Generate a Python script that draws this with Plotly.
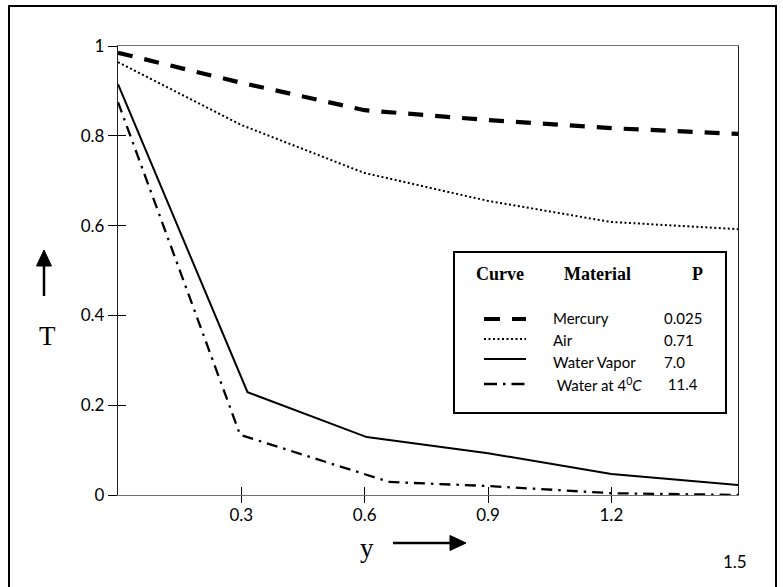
import plotly.graph_objects as go

# ---------------- data ----------------
x_mercury = [0, 0.3, 0.6, 0.9, 1.2, 1.51]
T_mercury = [0.985, 0.918, 0.857, 0.835, 0.817, 0.804]

x_air = [0, 0.3, 0.6, 0.9, 1.2, 1.51]
T_air = [0.964, 0.824, 0.717, 0.655, 0.608, 0.592]

x_vapor = [0, 0.315, 0.605, 0.9, 1.2, 1.51]
T_vapor = [0.915, 0.229, 0.129, 0.093, 0.047, 0.022]

x_water4 = [0, 0.297, 0.66, 0.9, 1.2, 1.51]
T_water4 = [0.875, 0.134, 0.029, 0.02, 0.004, 0.0]

legend_headers = ["Curve", "Material", "P"]
legend_materials = ["Mercury", "Air", "Water Vapor", " Water at 4<sup>0</sup><i>C</i>"]
legend_P = ["0.025", "0.71", "7.0", " 11.4"]

x_tickvals = [0.3, 0.6, 0.9, 1.2]
x_ticktext = ["0.3", "0.6", "0.9", "1.2"]
x_inner_ticks = [0, 0.3, 0.6, 0.9, 1.2]
y_tickvals = [0, 0.2, 0.4, 0.6, 0.8, 1]
y_ticktext = ["0", "0.2", "0.4", "0.6", "0.8", "1"]
stray_label = "1.5"

# ---------------- layout helpers (pixel -> paper) ----------------
W, H = 783, 587
L, R, TOP, BOT = 118, 738, 46, 495
XMAX = 1.508


def px(x):
    return (x - L) / (R - L)


def py(y):
    return (BOT - y) / (BOT - TOP)


TICKFONT = dict(family="Lato, Calibri, sans-serif", size=17, color="black")
SERIF = "Liberation Serif, Times New Roman, serif"

fig = go.Figure()
fig.add_trace(go.Scatter(x=x_mercury, y=T_mercury, mode="lines",
                         line=dict(color="black", width=4.2, dash="15px,12px"),
                         showlegend=False))
fig.add_trace(go.Scatter(x=x_air, y=T_air, mode="lines",
                         line=dict(color="black", width=2, dash="2px,2.5px"),
                         showlegend=False))
fig.add_trace(go.Scatter(x=x_vapor, y=T_vapor, mode="lines",
                         line=dict(color="black", width=2),
                         showlegend=False))
fig.add_trace(go.Scatter(x=x_water4, y=T_water4, mode="lines",
                         line=dict(color="black", width=2.3, dash="11px,6px,2.5px,6px"),
                         showlegend=False))
# invisible trace so that the inside-tick overlay axes render
fig.add_trace(go.Scatter(x=[None], y=[None], xaxis="x2", yaxis="y2",
                         mode="lines", showlegend=False, hoverinfo="skip"))

shapes = []
annotations = []

# outer frame
shapes.append(dict(type="rect", xref="paper", yref="paper",
                   x0=px(9), x1=px(776), y0=py(6), y1=py(600),
                   line=dict(color="black", width=2)))

# legend box
shapes.append(dict(type="rect", xref="paper", yref="paper",
                   x0=px(454), x1=px(726), y0=py(252), y1=py(413),
                   line=dict(color="black", width=2)))

# legend headers
for txt, cx in zip(legend_headers, [500, 597, 697]):
    annotations.append(dict(text="<b>%s</b>" % txt, xref="paper", yref="paper",
                            x=px(cx), y=py(274), showarrow=False,
                            xanchor="center", yanchor="middle",
                            font=dict(family=SERIF, size=18, color="black")))

row_y = [318, 340, 362, 384]
for txt, ry in zip(legend_materials, row_y):
    annotations.append(dict(text=txt, xref="paper", yref="paper",
                            x=px(551), y=py(ry), showarrow=False,
                            xanchor="left", yanchor="middle",
                            font=dict(family="Lato, Calibri, sans-serif", size=15, color="black")))
for txt, ry in zip(legend_P, row_y):
    annotations.append(dict(text=txt, xref="paper", yref="paper",
                            x=px(662), y=py(ry), showarrow=False,
                            xanchor="left", yanchor="middle",
                            font=dict(family="Lato, Calibri, sans-serif", size=15, color="black")))

# legend line samples
sample_styles = [
    dict(color="black", width=4.2, dash="16px,12px"),
    dict(color="black", width=2, dash="2px,2.5px"),
    dict(color="black", width=2),
    dict(color="black", width=2.3, dash="13px,6px,2.5px,6px"),
]
sample_y = [319, 339, 359, 384]
for st, sy in zip(sample_styles, sample_y):
    shapes.append(dict(type="line", xref="paper", yref="paper",
                       x0=px(484), x1=px(526), y0=py(sy), y1=py(sy), line=st))

# axis titles
annotations.append(dict(text="T", xref="paper", yref="paper", x=px(47), y=py(336),
                        showarrow=False, xanchor="center", yanchor="middle",
                        font=dict(family=SERIF, size=27, color="black")))
annotations.append(dict(text="y", xref="paper", yref="paper", x=px(367), y=py(548),
                        showarrow=False, xanchor="center", yanchor="middle",
                        font=dict(family=SERIF, size=27, color="black")))
annotations.append(dict(text=stray_label, xref="paper", yref="paper", x=px(735), y=py(561),
                        showarrow=False, xanchor="center", yanchor="middle",
                        font=TICKFONT))

# arrows next to the axis titles (shaft + filled head)
shapes.append(dict(type="line", xref="paper", yref="paper",
                   x0=px(44), x1=px(44), y0=py(296), y1=py(262),
                   line=dict(color="black", width=2.5)))
shapes.append(dict(type="path", xref="paper", yref="paper",
                   path="M %f,%f L %f,%f L %f,%f Z" % (px(44), py(250), px(36.5), py(266),
                                                       px(51.5), py(266)),
                   fillcolor="black", line=dict(color="black", width=1)))
shapes.append(dict(type="line", xref="paper", yref="paper",
                   x0=px(393), x1=px(453), y0=py(543), y1=py(543),
                   line=dict(color="black", width=2.5)))
shapes.append(dict(type="path", xref="paper", yref="paper",
                   path="M %f,%f L %f,%f L %f,%f Z" % (px(466), py(543), px(450), py(535.5),
                                                       px(450), py(550.5)),
                   fillcolor="black", line=dict(color="black", width=1)))

fig.update_layout(
    width=W, height=H,
    margin=dict(l=L, r=W - R, t=TOP, b=H - BOT, pad=0),
    paper_bgcolor="white", plot_bgcolor="white",
    showlegend=False,
    xaxis=dict(range=[0, XMAX], tickvals=x_tickvals, ticktext=x_ticktext,
               ticks="outside", ticklen=7, tickwidth=1.2, tickcolor="black",
               ticklabelstandoff=-3,
               showline=True, linecolor="#707070", linewidth=1.3, mirror=True,
               showgrid=False, zeroline=False, tickfont=TICKFONT),
    yaxis=dict(range=[0, 1], tickvals=y_tickvals, ticktext=y_ticktext,
               ticks="outside", ticklen=9, tickwidth=1.2, tickcolor="black",
               showline=True, linecolor="#202020", linewidth=1.4, mirror=True,
               showgrid=False, zeroline=False, tickfont=TICKFONT),
    xaxis2=dict(range=[0, XMAX], overlaying="x", anchor="y", side="bottom",
                tickvals=x_inner_ticks, ticks="inside", ticklen=8, tickwidth=1.2,
                tickcolor="black", showticklabels=False, showline=False,
                showgrid=False, zeroline=False),
    yaxis2=dict(range=[0, 1], overlaying="y", anchor="x", side="left",
                tickvals=y_tickvals[:-1], ticks="inside", ticklen=8, tickwidth=1.2,
                tickcolor="black", showticklabels=False, showline=False,
                showgrid=False, zeroline=False),
    shapes=shapes,
    annotations=annotations,
)

fig.write_html("out.html", config={"displayModeBar": False},
               post_script="document.body.style.margin='0';")
